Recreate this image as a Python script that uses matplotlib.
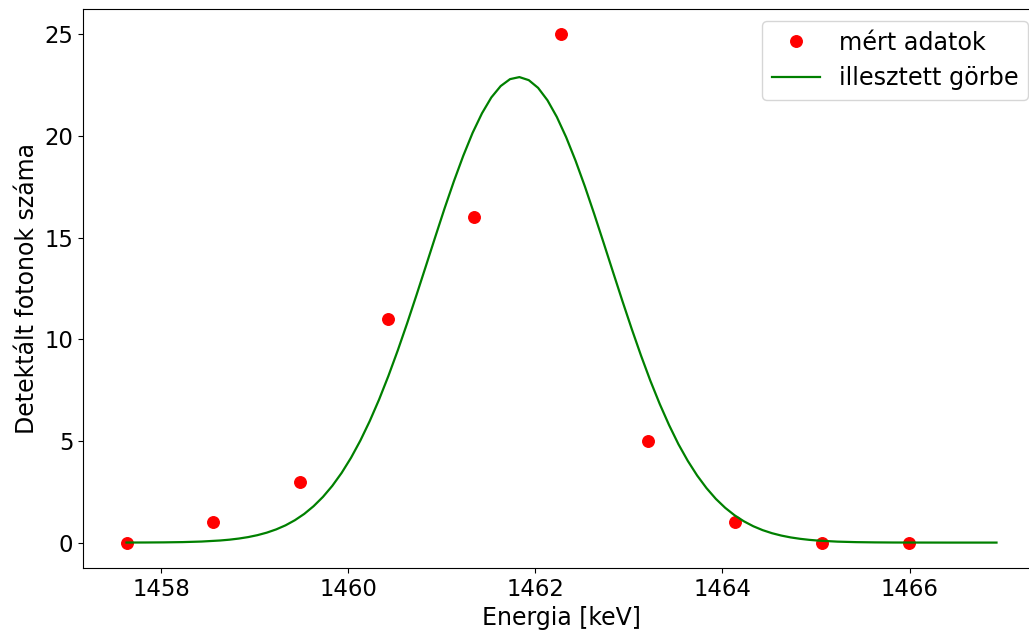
import numpy as np
import matplotlib
matplotlib.use("Agg")
import matplotlib.pyplot as plt

# mért adatok (energia [keV], beütésszám)
energia = [1457.63, 1458.56, 1459.49, 1460.42, 1461.35,
           1462.28, 1463.20, 1464.13, 1465.06, 1465.99]
beutes = [0, 1, 3, 11, 16, 25, 5, 1, 0, 0]

# illesztett görbe pontjai
gorbe_x = [1457.63, 1457.83, 1458.03, 1458.23, 1458.43, 1458.63, 1458.73, 1458.83,
           1458.93, 1459.03, 1459.13, 1459.23, 1459.33, 1459.43, 1459.53, 1459.63,
           1459.73, 1459.83, 1459.93, 1460.03, 1460.13, 1460.23, 1460.33, 1460.43,
           1460.53, 1460.63, 1460.73, 1460.83, 1460.93, 1461.03, 1461.13, 1461.23,
           1461.33, 1461.43, 1461.53, 1461.63, 1461.73, 1461.83, 1461.93, 1462.03,
           1462.13, 1462.23, 1462.33, 1462.43, 1462.53, 1462.63, 1462.73, 1462.83,
           1462.93, 1463.03, 1463.13, 1463.23, 1463.33, 1463.43, 1463.53, 1463.63,
           1463.73, 1463.83, 1463.93, 1464.03, 1464.13, 1464.23, 1464.33, 1464.43,
           1464.53, 1464.63, 1464.73, 1464.83, 1464.93, 1465.03, 1465.23, 1465.43,
           1465.63, 1465.83, 1466.03, 1466.23, 1466.43, 1466.63, 1466.83, 1466.93]
gorbe_y = [0.002, 0.005, 0.011, 0.024, 0.051, 0.103, 0.143, 0.198,
           0.270, 0.366, 0.490, 0.649, 0.849, 1.101, 1.411, 1.791,
           2.248, 2.792, 3.431, 4.172, 5.020, 5.977, 7.037, 8.203,
           9.458, 10.79, 12.18, 13.60, 15.03, 16.44, 17.78, 19.03,
           20.16, 21.12, 21.90, 22.46, 22.80, 22.90, 22.75, 22.37,
           21.76, 20.94, 19.94, 18.79, 17.52, 16.16, 14.75, 13.32,
           11.90, 10.52, 9.20, 7.96, 6.82, 5.78, 4.84, 4.02,
           3.30, 2.68, 2.150, 1.71, 1.344, 1.046, 0.805, 0.613,
           0.462, 0.345, 0.254, 0.186, 0.134, 0.096, 0.047, 0.022,
           0.010, 0.004, 0.002, 0.001, 0.0, 0.0, 0.0, 0.0]

fig = plt.figure(figsize=(10.29, 6.37), dpi=100)
# a jobb szél kilóg a képből, mint az eredetin
ax = fig.add_axes([83/1029, 1 - 568/637, (1040 - 83)/1029, (568 - 9)/637])

ax.plot(energia, beutes, 'o', color='red', markersize=8.3, label='mért adatok')
ax.plot(gorbe_x, gorbe_y, '-', color='green', linewidth=1.6, label='illesztett görbe')

ax.set_xlabel('Energia [keV]', fontsize=17)
ax.set_ylabel('Detektált fotonok száma', fontsize=17)
ax.set_xticks([1458, 1460, 1462, 1464, 1466])
ax.set_yticks([0, 5, 10, 15, 20, 25])
ax.tick_params(labelsize=16.4)
ax.legend(loc='upper right', fontsize=17.2)

fig.savefig('out.png', dpi=100)
